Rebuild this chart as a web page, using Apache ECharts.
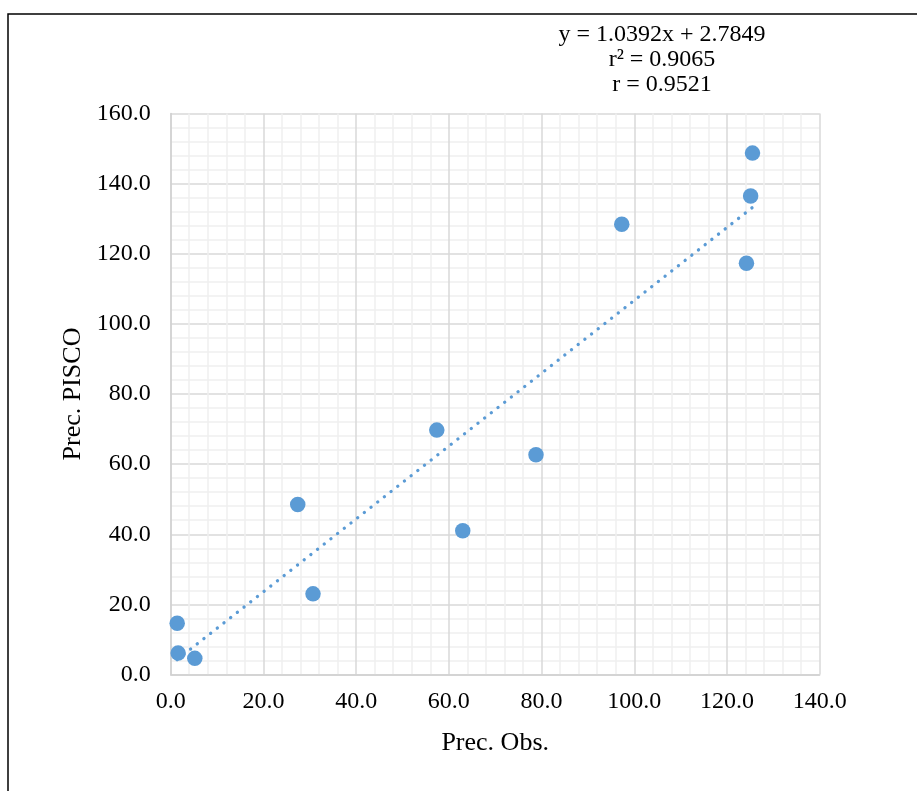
<!DOCTYPE html>
<html>
<head>
<meta charset="utf-8">
<script src="https://cdn.jsdelivr.net/npm/echarts@6/dist/echarts.min.js"></script>
<style>
html,body{margin:0;padding:0;background:#fff;}
#chart{width:917px;height:791px;}
</style>
</head>
<body>
<div id="chart"></div>
<script>
// Observed precipitation (x) vs PISCO precipitation (y)
const precObs   = [1.4, 1.6, 5.2, 27.4, 30.7, 57.4, 63.0, 78.8, 97.3, 124.2, 125.1, 125.5];
const precPisco = [14.6, 6.1, 4.6, 48.5, 23.0, 69.7, 41.0, 62.7, 128.4, 117.3, 136.5, 148.7];
// Linear trendline shown in chart
const slope = 1.0392;
const intercept = 2.7849;
const equationLines = ['y = 1.0392x + 2.7849', 'r² = 0.9065', 'r = 0.9521'];
const xAxisName = 'Prec. Obs.';
const yAxisName = 'Prec. PISCO';

const points = precObs.map((x, i) => [x, precPisco[i]]);
const xMin = Math.min(...precObs), xMax = Math.max(...precObs);
const trend = [[xMin, slope * xMin + intercept], [xMax, slope * xMax + intercept]];

const font = '"Liberation Serif", "Times New Roman", serif';
const chart = echarts.init(document.getElementById('chart'), null, {renderer: 'canvas'});
chart.setOption({
  animation: false,
  backgroundColor: '#fff',
  grid: {left: 170.7, right: 97.3, top: 113.5, bottom: 116.5, containLabel: false},
  xAxis: {
    type: 'value', min: 0, max: 140, interval: 20,
    name: xAxisName, nameLocation: 'middle', nameGap: 56,
    nameTextStyle: {fontFamily: font, fontSize: 26, color: '#000'},
    axisLine: {show: true, lineStyle: {color: '#d0d0d0', width: 1.5}},
    axisTick: {show: false},
    axisLabel: {fontFamily: font, fontSize: 24, color: '#000', margin: 15, formatter: v => v.toFixed(1)},
    splitLine: {show: true, lineStyle: {color: '#d9d9d9', width: 1.5}},
    minorTick: {show: false, splitNumber: 5},
    minorSplitLine: {show: true, lineStyle: {color: '#f0f0f0', width: 1.5}}
  },
  yAxis: {
    type: 'value', min: 0, max: 160, interval: 20,
    name: yAxisName, nameLocation: 'middle', nameGap: 80,
    nameTextStyle: {fontFamily: font, fontSize: 26, color: '#000'},
    axisLine: {show: true, lineStyle: {color: '#d0d0d0', width: 1.5}},
    axisTick: {show: false},
    axisLabel: {fontFamily: font, fontSize: 24, color: '#000', margin: 20, formatter: v => v.toFixed(1)},
    splitLine: {show: true, lineStyle: {color: '#d9d9d9', width: 1.5}},
    minorTick: {show: false, splitNumber: 5},
    minorSplitLine: {show: true, lineStyle: {color: '#f0f0f0', width: 1.5}}
  },
  series: [
    {
      type: 'line', data: trend, showSymbol: false, symbol: 'none', silent: true,
      lineStyle: {color: '#5b9bd5', width: 3.3, type: [0.1, 8.4], cap: 'round'},
      z: 2
    },
    {
      type: 'scatter', data: points, symbol: 'circle', symbolSize: 15.5,
      itemStyle: {color: '#5b9bd5', opacity: 1}, z: 3
    }
  ],
  graphic: [
    {type: 'rect', shape: {x: 8, y: 14, width: 1200, height: 1200},
     style: {fill: 'none', stroke: '#000', lineWidth: 1.5}, silent: true, z: 100},
    {type: 'text', x: 662, y: 60,
     style: {text: equationLines.join('\n'), fontFamily: font, fontSize: 24, fill: '#000',
             textAlign: 'center', textVerticalAlign: 'middle', lineHeight: 25}}
  ]
});
</script>
</body>
</html>
